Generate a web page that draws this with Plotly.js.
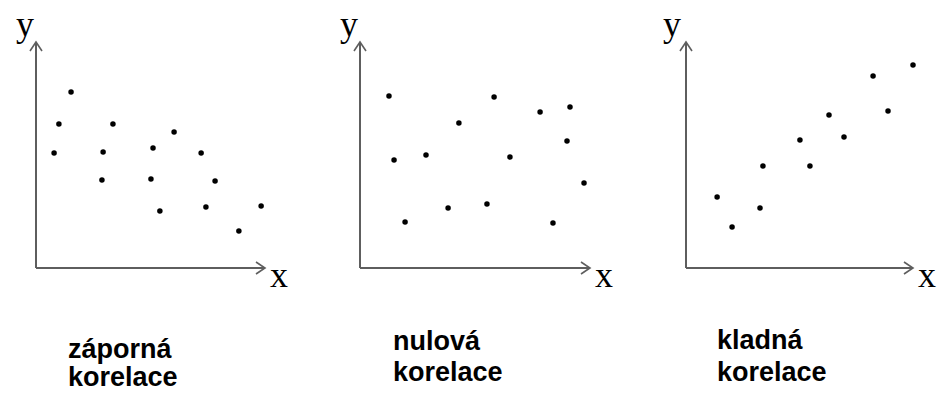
<!DOCTYPE html>
<html>
<head>
<meta charset="utf-8">
<script src="https://cdn.plot.ly/plotly-3.0.1.min.js"></script>
<style>
  html, body { margin: 0; padding: 0; background: #fff; }
  #chart { width: 940px; height: 394px; }
</style>
</head>
<body>
<div id="chart"></div>
<script>
// Three small scatter sketches: negative, zero and positive correlation.
const xNeg = [1.53, 1.00, 3.36, 0.79, 2.93, 2.88, 5.11, 5.02, 6.03, 7.21, 7.82, 5.41, 7.42, 9.83, 8.86];
const yNeg = [7.79, 6.37, 6.37, 5.09, 5.13, 3.89, 5.31, 3.94, 6.02, 5.09, 3.85, 2.52, 2.70, 2.74, 1.64];

const xZero = [1.26, 1.48, 2.87, 1.96, 4.30, 3.83, 5.83, 5.52, 6.52, 7.83, 9.13, 9.00, 9.74, 8.39];
const yZero = [7.61, 4.78, 5.00, 2.04, 6.42, 2.65, 7.57, 2.83, 4.91, 6.90, 7.12, 5.62, 3.76, 1.99];

const xPos = [1.37, 2.03, 3.26, 3.39, 5.02, 5.46, 6.30, 6.96, 8.24, 8.90, 10.0];
const yPos = [3.14, 1.81, 2.65, 4.51, 5.66, 4.51, 6.77, 5.80, 8.50, 6.95, 8.98];

const captionLine1 = ['záporná', 'nulová', 'kladná'];
const captionLine2 = ['korelace', 'korelace', 'korelace'];
const axisLetterX = 'x';
const axisLetterY = 'y';

const W = 940, H = 394;
// panel frames in pixels: y axis position, end of x axis, caption placement
const frames = [
  { left: 36,  right: 265, capLeft: 66,  cap1: 349, cap2: 377, yShift: -11 },
  { left: 360, right: 590, capLeft: 391, cap1: 341, cap2: 372, yShift: -11 },
  { left: 686, right: 913, capLeft: 715, cap1: 340, cap2: 372, yShift: -14 }
];
const axisBottom = 268, axisTop = 42;

const series = [[xNeg, yNeg], [xZero, yZero], [xPos, yPos]];
const axisColor = '#5e5e5e';

const traces = series.map((s, i) => ({
  type: 'scatter',
  mode: 'markers',
  x: s[0],
  y: s[1],
  xaxis: i === 0 ? 'x' : 'x' + (i + 1),
  yaxis: i === 0 ? 'y' : 'y' + (i + 1),
  cliponaxis: false,
  marker: { color: '#000000', size: 5.5 },
  hoverinfo: 'skip',
  showlegend: false
}));

const layout = {
  width: W,
  height: H,
  margin: { l: 0, r: 0, t: 0, b: 0 },
  paper_bgcolor: '#ffffff',
  plot_bgcolor: 'rgba(0,0,0,0)',
  showlegend: false,
  shapes: [],
  annotations: []
};

const hidden = { range: [0, 10], visible: false, fixedrange: true, showgrid: false, zeroline: false };

frames.forEach((f, i) => {
  const sfx = i === 0 ? '' : String(i + 1);
  layout['xaxis' + sfx] = Object.assign({}, hidden, {
    domain: [f.left / W, f.right / W],
    anchor: 'y' + sfx
  });
  layout['yaxis' + sfx] = Object.assign({}, hidden, {
    domain: [(H - axisBottom) / H, (H - axisTop) / H],
    anchor: 'x' + sfx
  });
  const xd = 'x' + sfx + ' domain';
  const yd = 'y' + sfx + ' domain';
  const line = { color: axisColor, width: 2 };
  // axis lines
  layout.shapes.push({ type: 'line', xref: xd, yref: yd, x0: 0, y0: 0, x1: 1, y1: 0, line });
  layout.shapes.push({ type: 'line', xref: xd, yref: yd, x0: 0, y0: 0, x1: 0, y1: 1, line });
  // open arrow heads
  layout.shapes.push({
    type: 'path', xref: xd, yref: yd,
    xsizemode: 'pixel', ysizemode: 'pixel', xanchor: 1, yanchor: 0,
    path: 'M-9,6 L0,0 L-9,-6', line: { color: axisColor, width: 1.6 }
  });
  layout.shapes.push({
    type: 'path', xref: xd, yref: yd,
    xsizemode: 'pixel', ysizemode: 'pixel', xanchor: 0, yanchor: 1,
    path: 'M-6,-9 L0,0 L6,-9', line: { color: axisColor, width: 1.6 }
  });
  // axis letters
  const letterFont = { family: 'Liberation Serif, Times New Roman, serif', size: 36, color: '#000000' };
  layout.annotations.push({
    text: axisLetterY, xref: xd, yref: yd, x: 0, y: 1,
    xshift: f.yShift, yshift: 18, showarrow: false,
    xanchor: 'center', yanchor: 'middle', font: letterFont
  });
  layout.annotations.push({
    text: axisLetterX, xref: xd, yref: yd, x: 1, y: 0,
    xshift: 14, yshift: -7, showarrow: false,
    xanchor: 'center', yanchor: 'middle', font: letterFont
  });
  // captions
  const capFont = { family: 'Liberation Sans, Arial, sans-serif', size: 27, color: '#000000', weight: 'bold' };
  layout.annotations.push({
    text: '<b>' + captionLine1[i] + '</b>', xref: 'paper', yref: 'paper',
    x: f.capLeft / W, y: (H - f.cap1) / H, showarrow: false,
    xanchor: 'left', yanchor: 'middle', align: 'left', font: capFont
  });
  layout.annotations.push({
    text: '<b>' + captionLine2[i] + '</b>', xref: 'paper', yref: 'paper',
    x: f.capLeft / W, y: (H - f.cap2) / H, showarrow: false,
    xanchor: 'left', yanchor: 'middle', align: 'left', font: capFont
  });
});

Plotly.newPlot('chart', traces, layout, { staticPlot: true, displayModeBar: false });
</script>
</body>
</html>
